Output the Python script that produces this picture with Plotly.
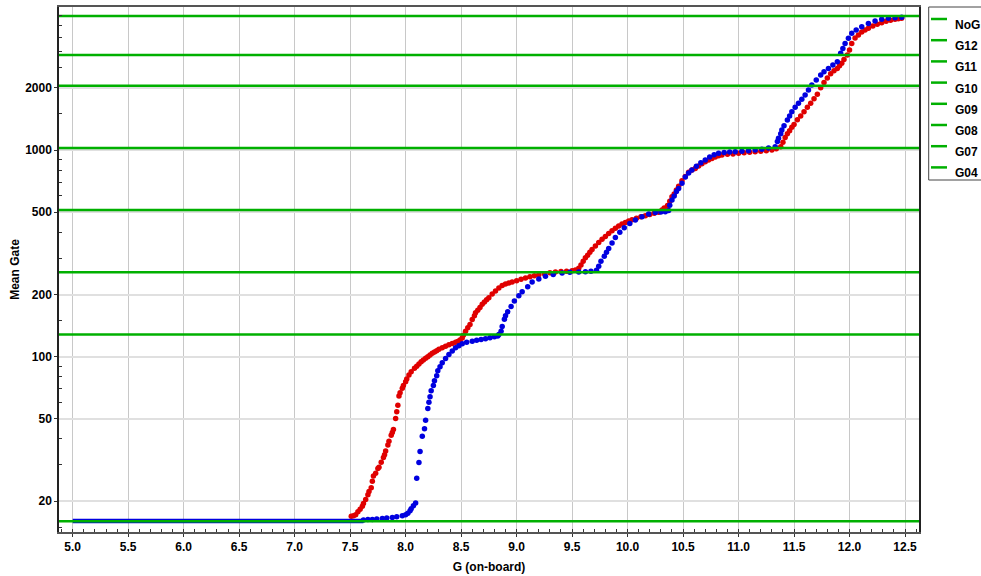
import plotly.graph_objects as go

# ---------------- data ----------------
ref_names = ["NoG", "G12", "G11", "G10", "G09", "G08", "G07", "G04"]
ref_levels = [4450, 2880, 2048, 1024, 512, 256, 128, 16]

red_x = [7.51, 7.53, 7.55, 7.57, 7.59, 7.61, 7.62, 7.64, 7.66, 7.67, 7.69, 7.70, 7.71, 7.73, 7.75,
         7.76, 7.78, 7.80, 7.81, 7.82, 7.84, 7.85, 7.87, 7.88, 7.89, 7.91, 7.92, 7.93, 7.94, 7.95,
         7.97, 7.98, 8.00, 8.01, 8.03, 8.05, 8.08, 8.10, 8.12, 8.14, 8.16, 8.18, 8.20, 8.22, 8.24,
         8.26, 8.28, 8.30, 8.33, 8.36, 8.39, 8.42, 8.45, 8.47, 8.49, 8.51, 8.52, 8.54, 8.56, 8.58,
         8.60, 8.62, 8.63, 8.65, 8.67, 8.69, 8.71, 8.73, 8.75, 8.78, 8.81, 8.84, 8.87, 8.90, 8.93,
         8.96, 9.00, 9.04, 9.08, 9.12, 9.16, 9.20, 9.25, 9.30, 9.35, 9.40, 9.45, 9.50, 9.53, 9.56,
         9.58, 9.60, 9.62, 9.64, 9.66, 9.68, 9.71, 9.74, 9.77, 9.80, 9.83, 9.86, 9.89, 9.92, 9.95,
         9.98, 10.01, 10.04, 10.08, 10.12, 10.16, 10.20, 10.24, 10.28, 10.31, 10.33, 10.36, 10.38, 10.40, 10.42,
         10.44, 10.46, 10.49, 10.52, 10.55, 10.58, 10.61, 10.64, 10.67, 10.70, 10.73, 10.76, 10.79, 10.82, 10.85,
         10.90, 10.95, 11.00, 11.05, 11.10, 11.15, 11.20, 11.25, 11.30, 11.34, 11.38, 11.40, 11.42, 11.44, 11.46,
         11.48, 11.50, 11.53, 11.56, 11.59, 11.62, 11.65, 11.68, 11.71, 11.74, 11.77, 11.80, 11.83, 11.86, 11.89,
         11.91, 11.93, 11.95, 11.98, 12.00, 12.02, 12.05, 12.08, 12.11, 12.14, 12.17, 12.21, 12.25, 12.29, 12.33,
         12.37, 12.41, 12.44, 12.47]
red_y = [16.9, 17.0, 17.2, 17.8, 18.3, 18.9, 19.5, 20.4, 21.5, 22.3, 23.2, 25.0, 26.5, 27.3, 28.8,
         29.2, 30.9, 32.5, 33.6, 35.0, 37.4, 39.0, 41.7, 43.0, 44.4, 50.3, 54.2, 58.3, 64.5, 67.0,
         70.3, 72.5, 75.7, 78.0, 81.5, 84.5, 87.9, 90.0, 92.2, 94.5, 96.5, 98.2, 100.0, 102.0, 103.9,
         105.5, 107.0, 108.8, 110.5, 112.5, 114.2, 116.0, 117.5, 118.6, 120.5, 123.3, 127.0, 132.8, 138.0, 143.0,
         151.5, 158.0, 163.4, 168.0, 173.0, 179.4, 184.0, 188.5, 193.0, 201.3, 208.0, 215.0, 221.2, 225.0, 227.5,
         229.7, 233.0, 237.0, 240.3, 243.5, 246.5, 249.4, 252.0, 255.0, 257.3, 258.5, 259.5, 260.8, 263.0, 268.3,
         278.0, 290.0, 300.8, 310.0, 320.0, 330.4, 343.0, 357.0, 369.9, 382.0, 395.0, 406.7, 418.0, 429.0, 438.6,
         446.0, 453.0, 460.3, 468.0, 475.0, 481.5, 488.0, 494.0, 500.6, 512.0, 524.0, 539.0, 565.0, 594.0, 612.0,
         640.0, 668.0, 710.0, 745.0, 780.0, 800.0, 815.0, 838.0, 858.0, 878.0, 895.0, 910.0, 925.0, 937.0, 946.0,
         953.0, 958.0, 964.0, 970.0, 975.0, 981.0, 987.0, 993.0, 1000.0, 1015.0, 1038.0, 1090.0, 1150.0, 1200.0, 1240.0,
         1290.0, 1330.0, 1400.0, 1460.0, 1532.0, 1610.0, 1683.0, 1770.0, 1860.0, 2000.0, 2120.0, 2230.0, 2340.0, 2420.0, 2483.0,
         2560.0, 2627.0, 2740.0, 2880.0, 3050.0, 3277.0, 3480.0, 3603.0, 3720.0, 3810.0, 3879.0, 3980.0, 4060.0, 4131.0, 4200.0,
         4250.0, 4290.0, 4320.0, 4340.0]

blue_floor_x = [5.0, 7.62]
blue_floor_y = [16.05, 16.05]

blue_x = [7.62, 7.66, 7.70, 7.74, 7.79, 7.83, 7.88, 7.92, 7.97, 8.00, 8.02, 8.04, 8.05, 8.07, 8.09,
          8.10, 8.12, 8.13, 8.15, 8.17, 8.18, 8.20, 8.21, 8.22, 8.23, 8.25, 8.26, 8.28, 8.29, 8.31,
          8.33, 8.36, 8.39, 8.42, 8.45, 8.48, 8.51, 8.55, 8.60, 8.64, 8.68, 8.72, 8.76, 8.80, 8.83,
          8.84, 8.86, 8.87, 8.89, 8.90, 8.92, 8.95, 8.98, 9.02, 9.05, 9.10, 9.14, 9.20, 9.26, 9.33,
          9.41, 9.48, 9.56, 9.62, 9.67, 9.72, 9.74, 9.76, 9.79, 9.81, 9.83, 9.86, 9.89, 9.93, 9.97,
          10.02, 10.07, 10.13, 10.19, 10.25, 10.30, 10.34, 10.37, 10.38, 10.40, 10.42, 10.44, 10.46, 10.49, 10.52,
          10.55, 10.58, 10.62, 10.66, 10.70, 10.74, 10.78, 10.82, 10.87, 10.92, 10.97, 11.03, 11.09, 11.15, 11.21,
          11.27, 11.33, 11.35, 11.36, 11.38, 11.39, 11.41, 11.44, 11.46, 11.48, 11.51, 11.54, 11.57, 11.60, 11.63,
          11.66, 11.70, 11.74, 11.77, 11.81, 11.85, 11.89, 11.92, 11.94, 11.96, 11.99, 12.02, 12.06, 12.11, 12.17,
          12.23, 12.29, 12.35, 12.41, 12.47]
blue_y = [16.2, 16.3, 16.3, 16.4, 16.5, 16.6, 16.7, 16.8, 17.0, 17.2, 17.5, 18.0, 18.4, 19.0, 19.6,
          25.8, 30.8, 34.8, 41.2, 44.8, 49.3, 56.1, 60.3, 64.0, 68.5, 72.5, 76.5, 81.0, 85.5, 89.5,
          93.6, 98.0, 102.6, 106.5, 110.4, 113.0, 115.5, 117.5, 118.9, 120.0, 121.0, 122.1, 123.5, 124.8, 125.8,
          128.0, 133.0, 140.0, 152.0, 158.0, 165.0, 175.0, 186.0, 197.0, 206.5, 218.0, 230.0, 238.0, 245.0, 250.0,
          254.0, 256.0, 257.0, 258.0, 259.0, 262.0, 274.0, 290.0, 306.0, 320.0, 334.0, 355.0, 377.0, 400.0, 421.0,
          441.0, 459.0, 476.0, 491.0, 498.0, 501.0, 503.0, 510.0, 540.0, 573.0, 600.0, 630.0, 652.0, 690.0, 740.0,
          775.0, 800.0, 835.0, 868.0, 895.0, 925.0, 948.0, 964.0, 972.0, 977.0, 981.0, 987.0, 993.0, 1000.0, 1010.0,
          1022.0, 1038.0, 1100.0, 1139.0, 1200.0, 1249.0, 1310.0, 1397.0, 1460.0, 1532.0, 1610.0, 1683.0, 1760.0, 1847.0, 1950.0,
          2063.0, 2180.0, 2306.0, 2390.0, 2483.0, 2580.0, 2675.0, 2937.0, 3100.0, 3277.0, 3470.0, 3668.0, 3810.0, 3950.0, 4090.0,
          4210.0, 4290.0, 4340.0, 4370.0, 4390.0]

x_tick_vals = [5.0, 5.5, 6.0, 6.5, 7.0, 7.5, 8.0, 8.5, 9.0, 9.5, 10.0, 10.5, 11.0, 11.5, 12.0, 12.5]
y_tick_vals = [20, 50, 100, 200, 500, 1000, 2000]
y_minor_vals = [15, 30, 40, 60, 70, 80, 90, 150, 300, 400, 600, 700, 800, 900,
                1500, 2500, 3000, 3500, 4000, 4500]

# ---------------- layout constants ----------------
W, H = 981, 576
ML, MR, MT, MB = 59, 62, 7, 44
X_RANGE = [4.8765, 12.626]
Y_RANGE = [1.152, 3.692]  # log10
PW, PH = W - ML - MR, H - MT - MB

RED = "#e00000"
BLUE = "#0000e0"
GREEN = "#00b000"
FONT = "Liberation Sans"


def px_x(px):
    return (px - ML) / PW


def px_y(py):
    return (H - MB - py) / PH


fig = go.Figure()

fig.add_trace(go.Scatter(x=red_x, y=red_y, mode="markers", name="red",
                         marker=dict(color=RED, size=5.5, line=dict(width=0)),
                         showlegend=False, hoverinfo="x+y"))
fig.add_trace(go.Scatter(x=blue_floor_x, y=blue_floor_y, mode="lines", name="blue floor",
                         line=dict(color=BLUE, width=4.5), showlegend=False))
fig.add_trace(go.Scatter(x=blue_x, y=blue_y, mode="markers", name="blue",
                         marker=dict(color=BLUE, size=5.5, line=dict(width=0)),
                         showlegend=False, hoverinfo="x+y"))

for nm, lv in zip(ref_names, ref_levels):
    fig.add_trace(go.Scatter(x=X_RANGE, y=[lv, lv], mode="lines", name=nm,
                             line=dict(color=GREEN, width=2.5), showlegend=False))

# custom legend (box partially cut by the page edge, as in the reference)
shapes = [dict(type="rect", xref="paper", yref="paper",
               x0=px_x(928.7), x1=px_x(1000), y0=px_y(180), y1=px_y(7),
               line=dict(color="#444444", width=1), fillcolor="white", layer="above")]
annotations = []
for i, nm in enumerate(ref_names):
    ty = 25 + i * 21.2
    ly = ty - 6
    shapes.append(dict(type="line", xref="paper", yref="paper",
                       x0=px_x(931), x1=px_x(947), y0=px_y(ly), y1=px_y(ly),
                       line=dict(color=GREEN, width=2.5), layer="above"))
    annotations.append(dict(text=nm, xref="paper", yref="paper",
                            x=px_x(953), y=px_y(ty), xanchor="left", yanchor="middle",
                            showarrow=False,
                            font=dict(family=FONT, size=12, color="black", weight="bold")))

fig.update_layout(
    width=W, height=H,
    margin=dict(l=ML, r=MR, t=MT, b=MB, autoexpand=False),
    paper_bgcolor="white", plot_bgcolor="white",
    font=dict(family=FONT, size=12, color="black", weight="bold"),
    showlegend=False,
    shapes=shapes, annotations=annotations,
    xaxis=dict(
        range=X_RANGE, tickmode="array", tickvals=x_tick_vals,
        tickformat=".1f",
        showgrid=True, gridcolor="#c8c8c8", gridwidth=1,
        zeroline=False,
        showline=True, linecolor="#555555", linewidth=1.5, mirror=True,
        ticks="outside", ticklen=3, tickcolor="#333333",
        tickfont=dict(family=FONT, size=12, color="black", weight="bold"),
        minor=dict(dtick=0.1, tick0=5.0, ticks="inside", ticklen=3, tickcolor="#333333", showgrid=False),
        title=dict(text="G (on-board)", standoff=9,
                   font=dict(family=FONT, size=12, color="black", weight="bold")),
    ),
    yaxis=dict(
        type="log", range=Y_RANGE, tickmode="array", tickvals=y_tick_vals,
        ticktext=[str(v) for v in y_tick_vals],
        showgrid=True, gridcolor="#e0e0e0", gridwidth=2,
        zeroline=False,
        showline=True, linecolor="#222222", linewidth=1.5, mirror=True,
        ticks="outside", ticklen=3, tickcolor="#333333",
        tickfont=dict(family=FONT, size=12, color="black", weight="bold"),
        minor=dict(tickmode="array", tickvals=y_minor_vals, ticks="inside", ticklen=3,
                   tickcolor="#333333", showgrid=False),
        title=dict(text="Mean Gate", standoff=3,
                   font=dict(family=FONT, size=12, color="black", weight="bold")),
    ),
)

fig.write_html("out.html")
